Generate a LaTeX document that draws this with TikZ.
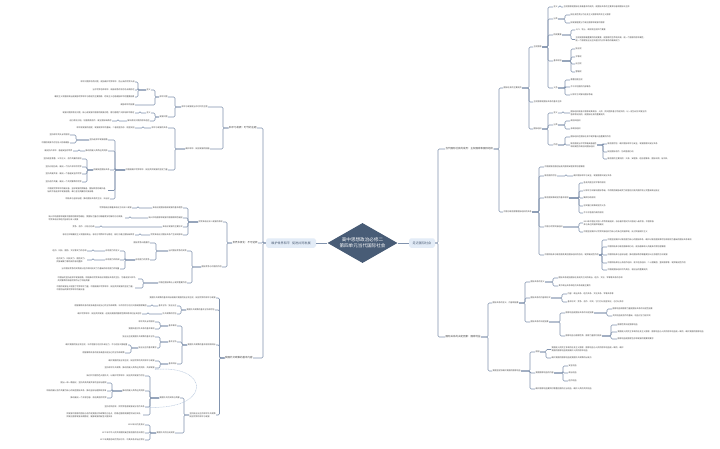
\documentclass[tikz,border=0pt]{standalone}
\usepackage{fontspec}
\setmainfont{Noto Sans CJK SC}
\usetikzlibrary{shapes.geometric}
\definecolor{lnc}{HTML}{8193AE}
\definecolor{txc}{HTML}{444444}
\definecolor{dkc}{HTML}{485C76}
\definecolor{lbc}{HTML}{E3ECF7}
\definecolor{mtc}{HTML}{4A5B74}
\definecolor{rlc}{HTML}{B4C6DC}
\tikzset{
  tl/.style={anchor=east, inner sep=0.3pt, text=txc, font=\fontsize{2}{2.7}\selectfont, align=left},
  tr/.style={anchor=west, inner sep=0.3pt, text=txc, font=\fontsize{2}{2.7}\selectfont, align=left},
  big/.style={font=\fontsize{2.5}{3}\selectfont},
  conn/.style={draw=lnc, line width=0.6pt, rounded corners=1.2pt},
  mainconn/.style={draw=lnc, line width=1pt},
  mainbox/.style={fill=lbc, rounded corners=1.8pt, minimum width=50pt, minimum height=9.5pt, inner sep=0.5pt, text=mtc, font=\fontsize{3.1}{3.5}\selectfont},
  dia/.style={diamond, fill=dkc, text=white, minimum width=70pt, minimum height=40pt, inner sep=0pt, aspect=1.75, align=center, font=\fontsize{4.6}{6}\selectfont},
  rel/.style={draw=rlc, line width=0.45pt, dash pattern=on 1pt off 0.6pt}
}
\newcommand\nodeL[4]{\node[tl] (#1) at (#2,#3) {#4};}
\newcommand\nodeR[4]{\node[tr] (#1) at (#2,#3) {#4};}
\newcommand\linkL[3]{\foreach \kid in {#3}{\draw[conn] (\kid.east) -- (#2,0 |- \kid.east) |- (#1.west);}}
\newcommand\linkR[3]{\foreach \kid in {#3}{\draw[conn] (\kid.west) -- (#2,0 |- \kid.west) |- (#1.east);}}
\begin{document}
\begin{tikzpicture}[x=1pt,y=-1pt]
\fill[white] (0,0) rectangle (720,448);
\useasboundingbox (0,0) rectangle (720,448);
% center
\node[dia] (dia) at (362.5,243) {高中思想政治必修二\\第四单元当代国际社会};
\node[mainbox] (lmain) at (291,243) {维护世界和平\hspace{2pt}促进共同发展};
\node[mainbox,minimum width=26pt] (rmain) at (422,243) {走近国际社会};
\draw[mainconn] (lmain.east) -- (dia.west);
\draw[mainconn] (dia.east) -- (rmain.west);
% ===== LEFT: branch A =====
\node[tl,big] (la) at (257,128) {和平与发展：时代的主题};
\nodeL{a}{208}{107}{和平与发展是当今时代的主题}
\nodeL{a1}{168}{97}{和平问题}
\nodeL{a1a}{151}{90}{含义}
\nodeL{a1a1}{135}{82}{和平问题即东西问题，是指维护世界和平、防止新的世界大战}
\nodeL{a1a2}{135}{90}{当今世界总体和平、局部战争的状态将长期存在}
\nodeL{a1a3}{135}{97}{霸权主义和强权政治是威胁世界和平与稳定的主要根源，恐怖主义也是威胁和平的重要因素}
\nodeL{a1b}{135}{105}{威胁和平的因素}
\nodeL{a2}{168}{117}{发展问题}
\nodeL{a2a}{151}{113}{含义}
\nodeL{a2a1}{135}{113}{发展问题即南北问题，核心是发展中国家的发展问题，南北差距扩大影响和平稳定}
\nodeL{a2b}{150}{121}{解决南北问题的根本途径}
\nodeL{a2b1}{112}{121}{进行南北对话，加强南南合作，建立国际新秩序}
\nodeL{b}{210}{149}{维护和平、促进发展的措施}
\nodeL{b1}{168}{128}{和平与发展的关系}
\nodeL{b11}{135}{128}{和平是发展的前提，发展是和平的基础，二者相互依存、相互促进}
\nodeL{b2}{168}{170}{中国是维护世界和平、促进共同发展的坚定力量}
\nodeL{b2a}{108}{140}{坚持走和平发展道路}
\nodeL{b2a1}{70}{135}{坚持和平共处五项原则}
\nodeL{b2a2}{70}{143}{中国的发展不对任何人构成威胁}
\nodeL{b2b}{108}{151}{推动构建人类命运共同体}
\nodeL{b2b1}{73}{151}{建设持久和平、普遍安全的世界}
\nodeL{b2c}{110}{170}{构建新型国际关系}
\nodeL{b2c1}{82}{159}{坚持相互尊重、公平正义、合作共赢的原则}
\nodeL{b2c2}{82}{167}{坚持对话协商，建设一个持久和平的世界}
\nodeL{b2c3}{82}{174}{坚持共建共享，建设一个普遍安全的世界}
\nodeL{b2c4}{82}{182}{坚持合作共赢，建设一个共同繁荣的世界}
\nodeL{b2d}{108}{190.5}{中国是世界和平的建设者、全球发展的贡献者、国际秩序的维护者，\\始终不渝走和平发展道路，奉行互利共赢的开放战略}
\nodeL{b2e}{110}{199}{积极参与全球治理，推动国际关系民主化、法治化}
\linkL{la}{223}{a,b}
\linkL{a}{175}{a1,a2}
\linkL{a1}{155}{a1a,a1b}
\linkL{a1a}{138}{a1a1,a1a2,a1a3}
\linkL{a2}{155}{a2a,a2b}
\linkL{a2a}{140}{a2a1}
\linkL{a2b}{118}{a2b1}
\linkL{b}{175}{b1,b2}
\linkL{b1}{143}{b11}
\linkL{b2}{115}{b2a,b2b,b2c,b2d,b2e}
\linkL{b2a}{76}{b2a1,b2a2}
\linkL{b2b}{79}{b2b1}
\linkL{b2c}{87}{b2c1,b2c2,b2c3,b2c4}
% ===== LEFT: branch B =====
\node[tl,big] (lb) at (258,243) {世界多极化：不可逆转};
\nodeL{c}{223}{222}{世界多极化深入发展的表现}
\nodeL{c1}{183}{208}{多极化是国际格局发展的基本趋势}
\nodeL{c11}{132}{208}{世界格局正朝着多极化方向深入发展}
\nodeL{c2}{183}{218}{新兴市场国家和发展中国家群体性崛起}
\nodeL{c21}{125}{218}{新兴市场国家和发展中国家的群体性崛起，使国际力量对比朝着更加均衡的方向发展，\\世界多极化和经济全球化深入发展}
\nodeL{c3}{183}{227}{多极化发展的主要形式}
\nodeL{c31}{95}{227}{竞争、合作、对话与协商}
\nodeL{c4}{183}{235}{世界多极化对国际关系产生深刻影响}
\nodeL{c41}{135}{235}{有利于抑制霸权主义和强权政治，有利于世界和平与稳定，有利于建立国际新秩序}
\nodeL{d}{222}{267}{国际竞争与中国的作用}
\nodeL{d1}{187}{251}{当代国际竞争的实质}
\nodeL{d1a}{150}{243}{国际竞争日趋激烈}
\nodeL{d1b}{150}{260}{综合国力的竞争}
\nodeL{d1b1}{120}{251}{综合国力的含义}
\nodeL{d1b11}{87}{251}{经济、科技、国防、文化等实力的总和}
\nodeL{d1b2}{120}{260}{综合国力的构成}
\nodeL{d1b21}{87}{260}{经济实力、科技实力、国防实力、\\民族凝聚力等构成的有机整体}
\nodeL{d1b3}{120}{269}{当今国际竞争的实质是以经济和科技实力为基础的综合国力的较量}
\nodeL{d2}{187}{283}{中国在国际舞台上发挥重要作用}
\nodeL{d21}{138}{279}{中国始终坚持走和平发展道路，积极推动世界多极化和国际关系民主化，为建设持久和平、\\共同繁荣的和谐世界作出了积极贡献}
\nodeL{d22}{135}{288}{中国的发展壮大增强了世界和平力量，中国是维护世界和平、促进共同发展的坚定力量，\\中国将始终做世界和平的建设者}
\linkL{lb}{227}{c,d}
\linkL{c}{188}{c1,c2,c3,c4}
\linkL{c1}{138}{c11}
\linkL{c2}{130}{c21}
\linkL{c3}{101}{c31}
\linkL{c4}{140}{c41}
\linkL{d}{192}{d1,d2}
\linkL{d1}{156}{d1a,d1b}
\linkL{d1b}{125}{d1b1,d1b2,d1b3}
\linkL{d1b1}{93}{d1b11}
\linkL{d1b2}{93}{d1b21}
\linkL{d2}{143}{d21,d22}
% ===== LEFT: branch C =====
\node[tl,big] (lc) at (253,358) {我国外交政策的基本内容};
\nodeL{e0}{216}{298}{我国外交政策的基本目标是维护我国的独立和主权，促进世界的和平与发展}
\nodeL{e1}{215}{310}{我国外交政策的基本立场和宗旨}
\nodeL{e11}{177}{306}{基本立场：独立自主}
\nodeL{e111}{147}{306}{根据事情本身的是非曲直决定自己的立场和政策，决不依附于任何大国或国家集团}
\nodeL{e12}{177}{314}{外交政策的宗旨}
\nodeL{e121}{142}{314}{维护世界和平、促进共同发展，这是由我国的国家性质和根本利益决定的}
\nodeL{e2}{216}{345}{我国外交政策的基本原则和目标}
\nodeL{e21}{177}{326}{基本准则}
\nodeL{e211}{155}{322}{和平共处五项原则}
\nodeL{e212}{155}{329}{我国处理对外关系的基本准则}
\nodeL{e22}{177}{342}{基本立场}
\nodeL{e221}{155}{337}{独立自主是我国外交政策的基本立场}
\nodeL{e222}{157}{348}{独立自主的基本要求}
\nodeL{e2221}{128}{345}{维护我国的独立和主权，决不屈服于任何外来压力，不与任何大国结盟}
\nodeL{e2222}{125}{353}{根据事情本身的是非曲直决定自己的立场和政策}
\nodeL{e23}{177}{364}{基本目标}
\nodeL{e231}{155}{361}{维护我国的独立和主权，促进世界的共同和平与发展}
\nodeL{e232}{155}{368}{坚持和平外交政策，推动构建人类命运共同体，共谋发展}
\nodeL{e3}{216}{415}{坚持独立自主的和平外交政策\\促进世界的和平与发展}
\nodeL{f1}{180}{398}{我国外交的实践与贡献}
\nodeL{f11}{145}{376}{新时代中国特色大国外交，以维护世界和平、促进共同发展为宗旨}
\nodeL{f12}{145}{391}{推动构建人类命运共同体}
\nodeL{f121}{107}{383}{提出一带一路倡议，坚持共商共建共享的全球治理观}
\nodeL{f122}{107}{391}{积极构建以合作共赢为核心的新型国际关系，推动全球治理体系变革}
\nodeL{f123}{107}{398}{推动建设一个开放包容、清洁美丽的世界}
\nodeL{f13}{145}{407}{坚持求同存异，同世界各国发展友好合作关系}
\nodeL{f14}{143}{415}{同发展中国家的团结与合作是我国对外政策的立足点，同周边国家发展睦邻友好关系，\\同发达国家发展长期稳定、健康发展的新型大国关系}
\nodeL{f2}{175}{433}{我国外交的历史成就}
\nodeL{f21}{145}{425}{1954年日内瓦会议}
\nodeL{f22}{145}{433}{1971年中华人民共和国恢复在联合国的合法席位}
\nodeL{f23}{145}{440}{1972年美国总统尼克松访华，中美关系开始正常化}
\linkL{lmain}{263}{la,lb,lc}
\linkL{lc}{219.5}{e0,e1,e2,e3}
\linkL{e1}{181}{e11,e12}
\linkL{e11}{152}{e111}
\linkL{e12}{148}{e121}
\linkL{e2}{182}{e21,e22,e23}
\linkL{e21}{160}{e211,e212}
\linkL{e22}{160}{e221,e222}
\linkL{e222}{131}{e2221,e2222}
\linkL{e23}{160}{e231,e232}
\linkL{e3}{184}{f1,f2}
\linkL{f1}{150}{f11,f12,f13,f14}
\linkL{f12}{112}{f121,f122,f123}
\linkL{f2}{150}{f21,f22,f23}
\draw[rel] (e232.south east) .. controls (212,364) and (212,412) .. (f13.east);
% ===== RIGHT: branch 1 =====
\node[tr,big] (r1) at (445,149) {当代国际社会的成员：主权国家和国际组织};
\nodeR{r1a}{503}{88}{国际社会的主要成员}
\nodeR{sov}{533}{47}{主权国家}
\nodeR{s1}{553}{7}{含义}
\nodeR{s11}{563}{7}{主权国家是国际社会最基本的成员，是国际关系的主要参加者和国际法主体}
\nodeR{s2}{553}{19}{分类}
\nodeR{s21}{570}{15}{按社会性质分为社会主义国家和资本主义国家}
\nodeR{s22}{570}{23}{按发展程度分为发达国家和发展中国家}
\nodeR{s3}{553}{35}{构成要素}
\nodeR{s31}{575}{30}{人口、领土、政权和主权四个要素}
\nodeR{s32}{575}{39.5}{主权是国家最重要的构成要素，是国家的生命和灵魂，是一个国家的根本属性，\\是一个国家独立自主处理对内对外事务的最高权力}
\nodeR{s4}{553}{61}{基本权利}
\nodeR{s41}{575}{49}{独立权}
\nodeR{s42}{575}{57}{平等权}
\nodeR{s43}{575}{64}{自卫权}
\nodeR{s44}{575}{72}{管辖权}
\nodeR{s5}{553}{88}{义务}
\nodeR{s51}{570}{80}{尊重别国主权}
\nodeR{s52}{570}{87}{不干涉别国的内部事务}
\nodeR{s53}{570}{95}{以和平方式解决国际争端}
\nodeR{r1a2}{533}{102}{主权国家是国际关系的基本主体}
\nodeR{org}{533}{129}{国际组织}
\nodeR{o1}{553}{113}{含义}
\nodeR{o11}{570}{113}{国际组织是若干国家或其政府、人民、民间团体基于特定目的，以一定协议形式建立的\\各种常设机构，是国际社会的重要成员}
\nodeR{o2}{553}{125}{分类}
\nodeR{o21}{570}{121}{政府间组织}
\nodeR{o22}{570}{129}{非政府组织}
\nodeR{o3}{553}{145}{作用}
\nodeR{o31}{570}{137}{国际组织在国际社会中发挥着日益重要的作用}
\nodeR{o32}{570}{145}{联合国是当今世界最具普遍性\\和权威性的政府间国际组织}
\nodeR{o321}{607}{144}{联合国宗旨：维护国际和平与安全，发展国家间友好关系}
\nodeR{o322}{607}{152}{促进国际合作，协调各国行动}
\nodeR{o323}{607}{159}{联合国的主要机构：大会、安理会、经社理事会、国际法院、秘书处}
\nodeR{r1b}{503}{212}{中国与联合国等国际组织的关系}
\nodeR{rb1}{544}{167}{中国是联合国创始会员国和安理会常任理事国}
\nodeR{rb2}{544}{176}{联合国的宗旨}
\nodeR{rb21}{573}{176}{维护国际和平与安全，发展国家间友好关系}
\nodeR{rb3}{544}{198}{联合国宪章规定的基本原则}
\nodeR{rb31}{583}{183}{各会员国主权平等的原则}
\nodeR{rb32}{583}{191}{以和平方法解决国际争端，不得使用威胁或武力侵害任何会员国的领土完整或政治独立}
\nodeR{rb33}{583}{198}{集体协助原则}
\nodeR{rb34}{583}{206}{忠实履行宪章规定的义务}
\nodeR{rb35}{583}{213}{不干涉各国内政的原则}
\nodeR{rb4}{544}{227}{中国与世界贸易组织}
\nodeR{rb41}{583}{223}{2001年中国正式加入世界贸易组织，标志着中国对外开放进入新阶段，中国积极\\参与多边贸易体制建设}
\nodeR{rb42}{583}{232}{中国坚定维护以世界贸易组织为核心的多边贸易体制，反对贸易保护主义}
\nodeR{rb5}{544}{255}{中国积极参与联合国及其他国际组织的活动，发挥建设性作用}
\nodeR{rb51}{607}{240}{中国坚定维护以联合国为核心的国际体系，维护以联合国宪章宗旨和原则为基础的国际关系准则}
\nodeR{rb52}{607}{247}{中国积极参与联合国维和行动，是派遣维和人员最多的常任理事国}
\nodeR{rb53}{607}{255}{中国积极参与全球治理，推动国际秩序朝着更加公正合理的方向发展}
\nodeR{rb54}{607}{263}{中国积极参加上海合作组织、亚太经合组织、二十国集团、金砖国家等，发挥建设性作用}
\nodeR{rb55}{607}{270}{中国是国际组织中负责任、有担当的重要成员}
\linkR{r1}{499}{r1a,r1b}
\linkR{r1a}{529}{sov,r1a2,org}
\linkR{sov}{548}{s1,s2,s3,s4,s5}
\linkR{s1}{560}{s11}
\linkR{s2}{565}{s21,s22}
\linkR{s3}{571}{s31,s32}
\linkR{s4}{571}{s41,s42,s43,s44}
\linkR{s5}{565}{s51,s52,s53}
\linkR{org}{548}{o1,o2,o3}
\linkR{o1}{563}{o11}
\linkR{o2}{565}{o21,o22}
\linkR{o3}{565}{o31,o32}
\linkR{o32}{603}{o321,o322,o323}
\linkR{r1b}{539}{rb1,rb2,rb3,rb4,rb5}
\linkR{rb2}{566}{rb21}
\linkR{rb3}{579}{rb31,rb32,rb33,rb34,rb35}
\linkR{rb4}{579}{rb41,rb42}
\linkR{rb5}{602}{rb51,rb52,rb53,rb54,rb55}
% ===== RIGHT: branch 2 =====
\node[tr,big] (r2) at (445,337) {国际关系的决定因素：国家利益};
\nodeR{r2a}{492}{303}{国际关系的含义、内容和因素}
\nodeR{q1}{530}{282}{国际关系的含义}
\nodeR{q11}{558}{278}{国际关系是指国际社会成员之间的政治、经济、文化、军事等关系的总和}
\nodeR{q12}{558}{286}{其中政治关系和经济关系是最主要的}
\nodeR{q2}{530}{298}{国际关系的内容和形式}
\nodeR{q21}{567}{294}{内容：政治关系、经济关系、文化关系、军事关系等}
\nodeR{q22}{567}{302}{基本形式：竞争、合作、冲突，它们可以相互转化，也可以并存}
\nodeR{q3}{530}{322}{国际关系的决定因素}
\nodeR{q31}{565}{313}{国家利益是国际关系的决定因素}
\nodeR{q311}{612}{309}{国家利益和国家力量是国际关系的决定性因素}
\nodeR{q312}{612}{316}{共同利益是合作的基础，利益对立引起冲突}
\nodeR{q32}{565}{336}{国家利益与国家性质、国家力量密切相关}
\nodeR{q321}{617}{325}{国家性质决定国家利益}
\nodeR{q322}{617}{332}{我国是人民民主专政的社会主义国家，国家利益与人民的根本利益是一致的，维护我国的国家利益}
\nodeR{q323}{617}{339}{国家利益是国家生存和发展的需要和要求}
\nodeR{r2b}{492}{371}{我国坚定地维护我国的国家利益}
\nodeR{p1}{535}{352}{原因}
\nodeR{p11}{551}{349.5}{我国是人民民主专政的社会主义国家，国家利益与人民的根本利益是一致的，维护\\我国的国家利益就是维护人民的根本利益}
\nodeR{p12}{551}{358}{维护我国的国家利益是我国外交政策的出发点}
\nodeR{p2}{535}{373}{我国国家利益的内容}
\nodeR{p21}{568}{366}{安全利益}
\nodeR{p22}{568}{373}{政治利益}
\nodeR{p23}{568}{381}{经济利益}
\nodeR{p3}{535}{389}{维护国家利益要同时尊重他国的正当利益，维护人类的共同利益}
\linkR{rmain}{438}{r1,r2}
\linkR{r2}{488}{r2a,r2b}
\linkR{r2a}{525}{q1,q2,q3}
\linkR{q1}{553}{q11,q12}
\linkR{q2}{562}{q21,q22}
\linkR{q3}{560}{q31,q32}
\linkR{q31}{607}{q311,q312}
\linkR{q32}{611}{q321,q322,q323}
\linkR{r2b}{530}{p1,p2,p3}
\linkR{p1}{546}{p11,p12}
\linkR{p2}{563}{p21,p22,p23}
\end{tikzpicture}
\end{document}
